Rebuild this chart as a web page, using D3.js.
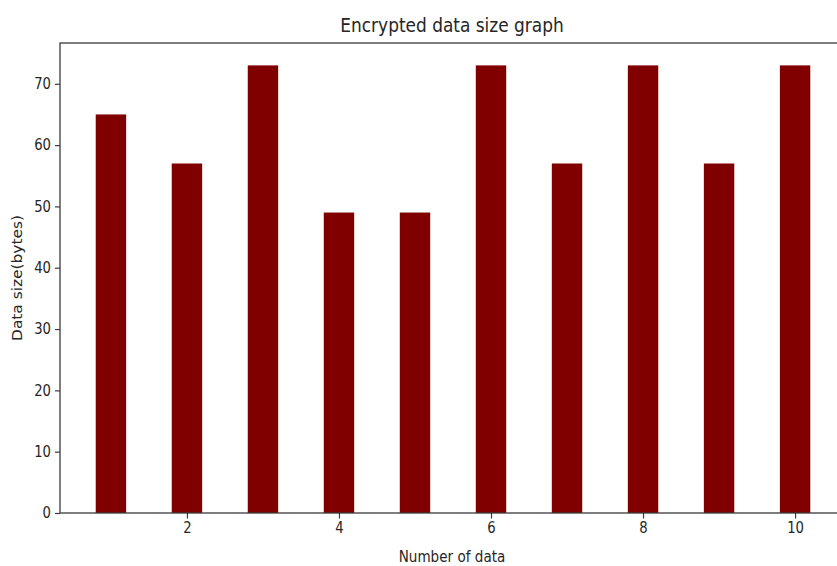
<!DOCTYPE html>
<html>
<head>
<meta charset="utf-8">
<script src="https://cdn.jsdelivr.net/npm/d3@7"></script>
<style>
  html, body { margin: 0; padding: 0; background: #fff; }
  svg { display: block; }
  text { font-family: "DejaVu Sans", sans-serif; fill: #262626; }
</style>
</head>
<body>
<div id="chart"></div>
<script>
// Encrypted size per data item
const items = [1, 2, 3, 4, 5, 6, 7, 8, 9, 10];
const sizes = [65, 57, 73, 49, 49, 73, 57, 73, 57, 73];
const xTicks = [2, 4, 6, 8, 10];
const yTicks = [0, 10, 20, 30, 40, 50, 60, 70];

const W = 837, H = 566;
const plot = { left: 60, right: 846, top: 43, bottom: 513 };
const barWidth = 0.4;
const squeeze = 0.88; // horizontal text compression

const svg = d3.select("#chart").append("svg")
  .attr("width", W).attr("height", H);

const xmin = d3.min(items) - barWidth / 2, xmax = d3.max(items) + barWidth / 2;
const xpad = (xmax - xmin) * 0.05;
const x = d3.scaleLinear().domain([xmin - xpad, xmax + xpad]).range([plot.left, plot.right]);
const y = d3.scaleLinear().domain([0, d3.max(sizes) * 1.05]).range([plot.bottom, plot.top]);

// bars
svg.append("g").selectAll("rect").data(items).join("rect")
  .attr("x", (d) => x(d - barWidth / 2))
  .attr("width", (d) => x(d + barWidth / 2) - x(d - barWidth / 2))
  .attr("y", (d, i) => y(sizes[i]))
  .attr("height", (d, i) => y(0) - y(sizes[i]))
  .attr("fill", "#800000");

// frame
svg.append("rect")
  .attr("x", plot.left).attr("y", plot.top)
  .attr("width", plot.right - plot.left).attr("height", plot.bottom - plot.top)
  .attr("fill", "none").attr("stroke", "#3a3a3a").attr("stroke-width", 1.3);

function styleAxis(g) {
  g.select(".domain").remove();
  g.selectAll(".tick line").attr("stroke", "#3a3a3a").attr("stroke-width", 1.2);
  g.selectAll(".tick text").attr("font-size", 15).attr("font-family", "DejaVu Sans, sans-serif")
    .attr("fill", "#262626");
}

const xAxis = svg.append("g").attr("transform", `translate(0,${plot.bottom})`)
  .call(d3.axisBottom(x).tickValues(xTicks).tickSize(5.5).tickPadding(4).tickFormat(d3.format("d")));
styleAxis(xAxis);
xAxis.selectAll(".tick text").attr("transform", `scale(${squeeze},1)`).attr("x", 0);

const yAxis = svg.append("g").attr("transform", `translate(${plot.left},0)`)
  .call(d3.axisLeft(y).tickValues(yTicks).tickSize(5).tickPadding(4).tickFormat(d3.format("d")));
styleAxis(yAxis);
yAxis.selectAll(".tick text").attr("transform", `scale(${squeeze},1)`).attr("x", -9 / squeeze);

// title and axis labels
svg.append("text")
  .attr("transform", `translate(${(plot.left + plot.right) / 2 - 1},32) scale(${squeeze},1)`)
  .attr("text-anchor", "middle").attr("font-size", 19.3)
  .text("Encrypted data size graph");

svg.append("text")
  .attr("transform", `translate(${(plot.left + plot.right) / 2 - 1},562) scale(${squeeze},1)`)
  .attr("text-anchor", "middle").attr("font-size", 15.4)
  .text("Number of data");

svg.append("text")
  .attr("transform", `translate(22,${(plot.top + plot.bottom) / 2}) rotate(-90) scale(1,${squeeze})`)
  .attr("text-anchor", "middle").attr("font-size", 15.4)
  .text("Data size(bytes)");
</script>
</body>
</html>
